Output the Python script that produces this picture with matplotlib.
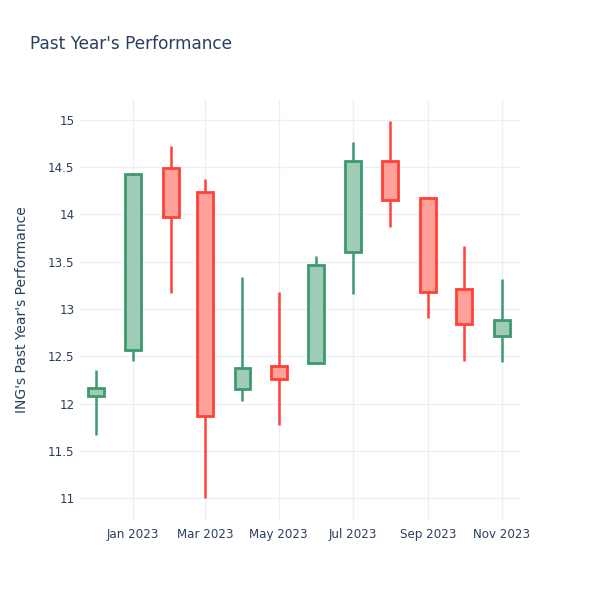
import matplotlib
matplotlib.use("Agg")
import matplotlib.pyplot as plt
import matplotlib.dates as mdates
import numpy as np
from datetime import datetime

dates = ["2022-12-01", "2023-01-01", "2023-02-01", "2023-03-01", "2023-04-01", "2023-05-01",
         "2023-06-01", "2023-07-01", "2023-08-01", "2023-09-01", "2023-10-01", "2023-11-01"]
open_ = [12.08, 12.57, 14.49, 14.24, 12.16, 12.40, 12.43, 13.60, 14.56, 14.17, 13.21, 12.72]
high = [12.36, 14.43, 14.72, 14.38, 13.34, 13.18, 13.56, 14.77, 14.99, 14.18, 13.67, 13.32]
low = [11.67, 12.45, 13.17, 11.00, 12.03, 11.77, 12.42, 13.16, 13.87, 12.91, 12.45, 12.44]
close = [12.17, 14.43, 13.97, 11.87, 12.38, 12.26, 13.47, 14.57, 14.15, 13.18, 12.84, 12.88]

ytick_vals = [11, 11.5, 12, 12.5, 13, 13.5, 14, 14.5, 15]
ytick_labels = ["11", "11.5", "12", "12.5", "13", "13.5", "14", "14.5", "15"]
xtick_dates = ["2023-01-01", "2023-03-01", "2023-05-01", "2023-07-01", "2023-09-01", "2023-11-01"]
xtick_labels = ["Jan 2023", "Mar 2023", "May 2023", "Jul 2023", "Sep 2023", "Nov 2023"]

title = "Past Year's Performance"
ylabel = "ING's Past Year's Performance"

inc_line, inc_fill = "#3D9970", "#9ECCB7"
dec_line, dec_fill = "#FF4136", "#FFA09A"
text_color = "#2a3f5f"
grid_color = "#EBF0F8"

plt.rcParams['font.family'] = ['DejaVu Sans']

fig = plt.figure(figsize=(6, 6), dpi=100)
ax = fig.add_axes([80/600, 80/600, 440/600, 420/600])

x = mdates.date2num([datetime.strptime(d, "%Y-%m-%d") for d in dates])
o = np.array(open_); c = np.array(close); h = np.array(high); l = np.array(low)
inc = c >= o
lc = np.where(inc, inc_line, dec_line)
fc = np.where(inc, inc_fill, dec_fill)

ax.vlines(x, l, h, colors=lc, linewidth=1.8, zorder=2)
ax.bar(x, np.abs(c - o), bottom=np.minimum(o, c), width=13,
       color=fc, edgecolor=lc, linewidth=2, zorder=3)

xmin = mdates.date2num(datetime(2022, 11, 18))
xmax = mdates.date2num(datetime(2023, 11, 16))
ax.set_xlim(xmin, xmax)
ax.set_ylim(10.77, 15.21)

xt = mdates.date2num([datetime.strptime(d, "%Y-%m-%d") for d in xtick_dates])
ax.set_xticks(xt)
ax.set_xticklabels(xtick_labels)
ax.set_yticks(ytick_vals)
ax.set_yticklabels(ytick_labels)
ax.tick_params(axis='both', length=0, labelsize=8.6, colors=text_color)
ax.tick_params(axis='x', pad=6)
ax.tick_params(axis='y', pad=4)
ax.grid(True, color=grid_color, linewidth=1, zorder=0)
ax.set_axisbelow(True)
for s in ax.spines.values():
    s.set_visible(False)

fig.text(30/600, 1 - 44/600, title, fontsize=12.2, color=text_color, va='center', ha='left')
fig.text(22/600, 1 - 310/600, ylabel, fontsize=10, color=text_color, rotation=90,
         va='center', ha='center')

fig.savefig("out.png", dpi=100, facecolor="white")
